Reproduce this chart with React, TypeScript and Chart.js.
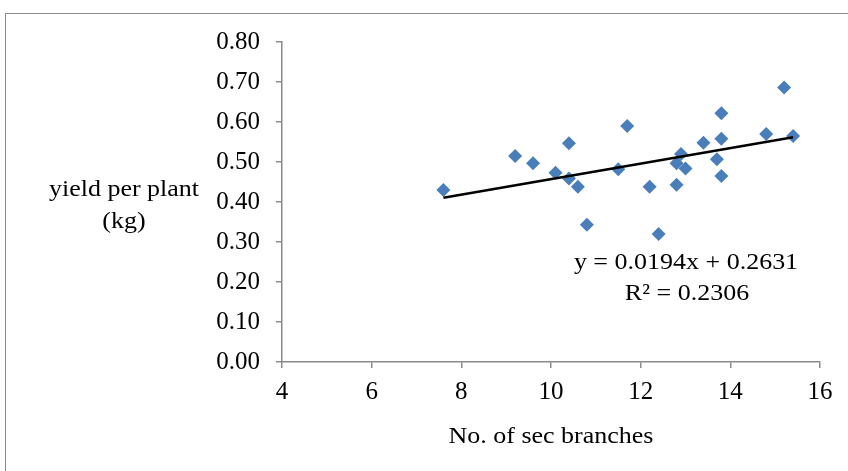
import React, { useEffect, useRef } from "react";
import { Chart, registerables } from "chart.js";

Chart.register(...registerables);

// ---- data ----
const branches = [7.6, 9.2, 9.6, 10.1, 10.4, 10.4, 10.6, 10.8, 11.5, 11.7, 12.2, 12.4, 12.8, 12.8, 12.9, 13.0, 13.4, 13.7, 13.8, 13.8, 13.8, 14.8, 15.2, 15.4];
const yieldPerPlant = [0.43, 0.515, 0.497, 0.473, 0.547, 0.459, 0.438, 0.343, 0.482, 0.59, 0.438, 0.32, 0.497, 0.443, 0.52, 0.484, 0.548, 0.507, 0.622, 0.558, 0.465, 0.57, 0.686, 0.565];
const trendSlope = 0.0194;
const trendIntercept = 0.2631;
const xTickValues = [4, 6, 8, 10, 12, 14, 16];
const yTickValues = [0, 0.1, 0.2, 0.3, 0.4, 0.5, 0.6, 0.7, 0.8];
const xAxisTitle = "No. of sec branches";
const yAxisTitleLines = ["yield per plant", "(kg)"];
const equationLines = ["y = 0.0194x + 0.2631", "R² = 0.2306"];

const FONT_FAMILY = '"Liberation Serif", "Times New Roman", serif';
const AXIS_COLOR = "#8a8a8a";
const MARKER_COLOR = "#4a7ebb";

const textPlugin = {
  id: "excelTexts",
  afterDraw(chart: any) {
    const ctx: CanvasRenderingContext2D = chart.ctx;
    const area = chart.chartArea;
    const draw = (text: string, cx: number, cy: number) => {
      ctx.save();
      ctx.translate(cx, cy);
      ctx.scale(1.13, 1);
      ctx.font = `23px ${FONT_FAMILY}`;
      ctx.fillStyle = "#000";
      ctx.textAlign = "center";
      ctx.textBaseline = "middle";
      ctx.fillText(text, 0, 0);
      ctx.restore();
    };
    const midX = (area.left + area.right) / 2;
    const midY = (area.top + area.bottom) / 2;
    draw(xAxisTitle, midX, area.bottom + 75);
    draw(yAxisTitleLines[0], 124, midY - 12);
    draw(yAxisTitleLines[1], 124, midY + 20);
    draw(equationLines[0], 686, 263);
    draw(equationLines[1], 687, 294);
  },
};

export default function App() {
  const canvasRef = useRef<HTMLCanvasElement | null>(null);

  useEffect(() => {
    const canvas = canvasRef.current;
    if (!canvas) return;
    const points = branches.map((x, i) => ({ x, y: yieldPerPlant[i] }));
    const xMin = Math.min(...branches);
    const xMax = Math.max(...branches);
    const trend = [
      { x: xMin, y: trendSlope * xMin + trendIntercept },
      { x: xMax, y: trendSlope * xMax + trendIntercept },
    ];

    const chart = new Chart(canvas, {
      type: "scatter",
      data: {
        datasets: [
          {
            label: "Linear trend",
            data: trend,
            showLine: true,
            borderColor: "#000",
            borderWidth: 2.5,
            pointRadius: 0,
            fill: false,
          } as any,
          {
            label: "yield per plant",
            data: points,
            pointStyle: "rectRot",
            pointRadius: 7,
            pointBackgroundColor: MARKER_COLOR,
            pointBorderColor: MARKER_COLOR,
            pointBorderWidth: 0,
          } as any,
        ],
      },
      options: {
        responsive: false,
        animation: false,
        devicePixelRatio: 1,
        layout: { padding: { top: 42, right: 28, left: 0, bottom: 0 } },
        plugins: {
          legend: { display: false },
          tooltip: { enabled: false },
        },
        scales: {
          x: {
            type: "linear",
            min: 4,
            max: 16,
            afterBuildTicks: (scale: any) => {
              scale.ticks = xTickValues.map((v) => ({ value: v }));
            },
            afterFit: (scale: any) => {
              scale.height = 109;
            },
            ticks: {
              font: { family: FONT_FAMILY, size: 25 },
              color: "#000",
              padding: 9,
              maxRotation: 0,
              callback: (v: any) => String(v),
            },
            grid: {
              display: true,
              drawOnChartArea: false,
              drawTicks: true,
              tickLength: 6,
              color: AXIS_COLOR,
              lineWidth: 1.5,
            },
            border: { display: true, color: AXIS_COLOR, width: 1.5 },
          },
          y: {
            type: "linear",
            min: 0,
            max: 0.8,
            afterBuildTicks: (scale: any) => {
              scale.ticks = yTickValues.map((v) => ({ value: v }));
            },
            afterFit: (scale: any) => {
              scale.width = 282;
            },
            ticks: {
              font: { family: FONT_FAMILY, size: 25 },
              color: "#000",
              padding: 16,
              callback: (v: any) => Number(v).toFixed(2),
            },
            grid: {
              display: true,
              drawOnChartArea: false,
              drawTicks: true,
              tickLength: 6,
              color: AXIS_COLOR,
              lineWidth: 1.5,
            },
            border: { display: true, color: AXIS_COLOR, width: 1.5 },
          },
        },
      },
      plugins: [textPlugin],
    });
    return () => chart.destroy();
  }, []);

  return (
    <div
      style={{
        position: "fixed",
        left: 0,
        top: 0,
        width: 848,
        height: 471,
        overflow: "hidden",
        background: "#fff",
      }}
    >
      <div
        style={{
          position: "absolute",
          left: 5,
          top: 13,
          width: 1000,
          height: 1000,
          border: "1px solid #8c8c8c",
          boxSizing: "border-box",
        }}
      />
      <canvas
        ref={canvasRef}
        width={848}
        height={471}
        style={{ position: "absolute", left: 0, top: 0, display: "block", width: 848, height: 471 }}
      />
    </div>
  );
}
